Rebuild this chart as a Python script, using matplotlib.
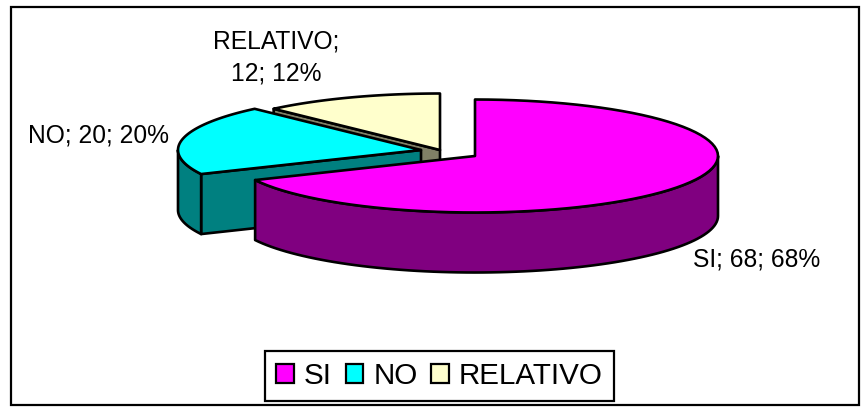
import numpy as np
import matplotlib
matplotlib.use("Agg")
import matplotlib.pyplot as plt
from matplotlib.patches import Polygon, Rectangle

categories = ["SI", "NO", "RELATIVO"]
values = [68, 20, 12]
percents = [68, 20, 12]
top_colors = ["#FF00FF", "#00FFFF", "#FFFFCC"]
side_colors = ["#800080", "#008080", "#808066"]

plt.rcParams['font.family'] = ['Liberation Sans', 'DejaVu Sans']

# pie geometry in image pixels
centers = [(475, 156), (421, 150), (440, 150)]
rx = 243
ry = 56.5
depth = 60
lw = 1.9


def arc(center, a, b):
	# angles clockwise from the top of the pie, in degrees
	t = np.radians(np.linspace(a, b, 80))
	return np.column_stack((center[0] + rx * np.sin(t), center[1] - ry * np.cos(t)))


def face(ax, pts, color, z):
	ax.add_patch(Polygon(pts, closed=True, facecolor=color, edgecolor="black", linewidth=lw, joinstyle="round", zorder=z))


fig = plt.figure(figsize=(8.62, 4.08), dpi=100)
ax = fig.add_axes([0, 0, 1, 1])
ax.set_xlim(0, 862)
ax.set_ylim(408, 0)
ax.axis("off")

ax.add_patch(Rectangle((11, 7), 848, 398, facecolor="white", edgecolor="black", linewidth=1.6, zorder=0))

# slices go back to front: RELATIVO, NO, SI
angles = np.cumsum([0] + values) / sum(values) * 360
z = 1
for i in [2, 1, 0]:
	a, b = angles[i], angles[i + 1]
	c = centers[i]
	top = arc(c, a, b)

	# the cut edge that faces the viewer
	if a > 180:
		p = arc(c, a, a)[0]
		face(ax, [c, p, (p[0], p[1] + depth), (c[0], c[1] + depth)], side_colors[i], z)
		z += 1

	# outer wall, only the front half of the rim shows
	lo, hi = max(a, 90), min(b, 270)
	if lo < hi:
		rim = arc(c, lo, hi)
		low = rim[::-1] + [0, depth]
		face(ax, np.vstack((rim, low)), side_colors[i], z)
		z += 1

	face(ax, np.vstack(([c], top)), top_colors[i], z)
	z += 1

# data labels
lab_size = 17.7
ax.text(757, 260, "%s; %d; %d%%" % (categories[0], values[0], percents[0]), fontsize=lab_size, ha="center", va="center", zorder=20)
ax.text(99, 135, "%s; %d; %d%%" % (categories[1], values[1], percents[1]), fontsize=lab_size, ha="center", va="center", zorder=20)
ax.text(276, 41, "%s;" % categories[2], fontsize=lab_size, ha="center", va="center", zorder=20)
ax.text(276, 73, "%d; %d%%" % (values[2], percents[2]), fontsize=lab_size, ha="center", va="center", zorder=20)

# legend
handles = [Rectangle((0, 0), 1, 1, facecolor=col, edgecolor="black", linewidth=1.6) for col in top_colors]
leg = ax.legend(handles, categories, ncol=3, loc="center", bbox_to_anchor=(439.5 / 862, 1 - 376 / 408),
	fontsize=21.3, frameon=True, fancybox=False, framealpha=1, edgecolor="black",
	handlelength=0.6, handleheight=0.6, handletextpad=0.33, columnspacing=0.47, borderpad=0.38, borderaxespad=0)
leg.get_frame().set_linewidth(1.6)
leg.set_zorder(20)

fig.savefig("out.png", dpi=100)
plt.close()
